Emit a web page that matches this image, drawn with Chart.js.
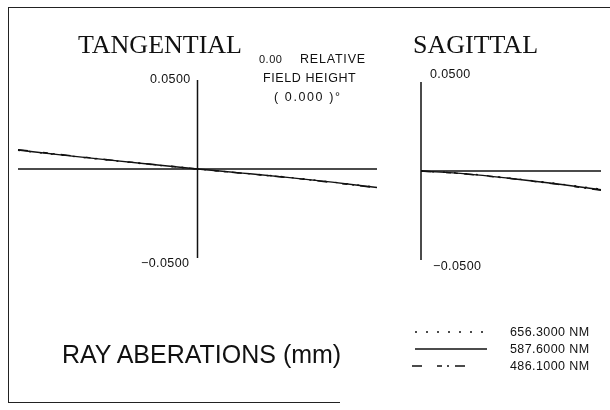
<!DOCTYPE html>
<html>
<head>
<meta charset="utf-8">
<script src="https://cdn.jsdelivr.net/npm/chart.js@4/dist/chart.umd.min.js"></script>
<style>
  html, body { margin: 0; padding: 0; background: #fff; }
  #wrap { position: relative; width: 610px; height: 410px; overflow: hidden; background: #fff; }
  #wrap canvas { position: absolute; left: 0; top: 0; }
  .t { position: absolute; color: #111; white-space: nowrap; line-height: 1; }
  .title { font-family: "Liberation Serif", serif; font-size: 26px; }
  .small { font-family: "Liberation Sans", Arial, sans-serif; font-size: 12.5px; letter-spacing: 0.4px; }
  .big { font-family: "Liberation Sans", Arial, sans-serif; font-size: 25px; }
  .frame { position: absolute; background: #222; }
</style>
</head>
<body>
<div id="wrap">
  <div class="frame" style="left:8px;top:7px;width:602px;height:1px"></div>
  <div class="frame" style="left:8px;top:7px;width:1px;height:396px"></div>
  <div class="frame" style="left:8px;top:402px;width:332px;height:1px"></div>
  <canvas id="tan" width="610" height="410"></canvas>
  <canvas id="sag" width="610" height="410"></canvas>
  <div id="labels"></div>
</div>
<script>
// --- data (mm), pupil coordinate -1..1 ---
const wavelengths = ['656.3000 NM', '587.6000 NM', '486.1000 NM'];
const dashes = [[2, 9], [], [10, 15, 5, 5, 2, 6]];

const tanPupil = [-1, -0.75, -0.5, -0.25, 0, 0.25, 0.5, 0.75, 1];
const tan656 = [0.0105, 0.0077, 0.0050, 0.0024, 0, -0.0023, -0.0046, -0.0073, -0.0102];
const tan588 = [0.0107, 0.0078, 0.0051, 0.0025, 0, -0.0023, -0.0047, -0.0074, -0.0104];
const tan486 = [0.0109, 0.0080, 0.0052, 0.0026, 0, -0.0024, -0.0048, -0.0076, -0.0106];

const sagPupil = [0, 0.25, 0.5, 0.75, 1];
const sag656 = [0, -0.0015, -0.0041, -0.0070, -0.0102];
const sag588 = [0, -0.0016, -0.0042, -0.0072, -0.0105];
const sag486 = [0, -0.0017, -0.0043, -0.0074, -0.0108];

const yTickLabels = ['0.0500', '\u22120.0500'];

function pts(xs, ys) { return xs.map((x, i) => ({ x: x, y: ys[i] })); }

// draws the two zero axes through the chart's own scales
const axesPlugin = {
  id: 'axes',
  beforeDatasetsDraw(chart) {
    const { ctx, chartArea: a, scales } = chart;
    const x0 = scales.x.getPixelForValue(0);
    const y0 = scales.y.getPixelForValue(0);
    ctx.save();
    ctx.strokeStyle = '#111';
    ctx.lineWidth = 1.5;
    ctx.beginPath();
    ctx.moveTo(x0, a.top); ctx.lineTo(x0, a.bottom);
    ctx.moveTo(a.left, y0); ctx.lineTo(a.right, y0);
    ctx.stroke();
    ctx.restore();
  }
};

// legend samples with the same dash patterns as the datasets
const legendPlugin = {
  id: 'fanLegend',
  afterDraw(chart) {
    const ctx = chart.ctx;
    const ys = [332, 349, 366];
    ctx.save();
    ctx.strokeStyle = '#111';
    ctx.lineWidth = 1.3;
    dashes.forEach((d, i) => {
      ctx.setLineDash(d);
      ctx.beginPath();
      ctx.moveTo(i === 2 ? 412 : 415, ys[i]);
      ctx.lineTo(i === 2 ? 480 : 487, ys[i]);
      ctx.stroke();
    });
    ctx.restore();
  }
};

function makeChart(id, xs, series, xmin, pad, extra) {
  return new Chart(document.getElementById(id), {
    type: 'line',
    data: {
      datasets: series.map((s, i) => ({
        data: pts(xs, s),
        borderColor: '#111',
        borderWidth: 1.4,
        borderDash: dashes[i],
        pointRadius: 0,
        cubicInterpolationMode: 'monotone',
        clip: false
      }))
    },
    options: {
      responsive: false,
      animation: false,
      devicePixelRatio: 1,
      layout: { padding: pad },
      plugins: { legend: { display: false }, tooltip: { enabled: false } },
      scales: {
        x: { type: 'linear', min: xmin, max: 1, display: false },
        y: { type: 'linear', min: -0.05, max: 0.05, display: false }
      }
    },
    plugins: extra
  });
}

makeChart('tan', tanPupil, [tan656, tan588, tan486], -1,
  { left: 18, right: 233, top: 80, bottom: 152 }, [axesPlugin]);
makeChart('sag', sagPupil, [sag656, sag588, sag486], 0,
  { left: 421, right: 9, top: 82, bottom: 150 }, [axesPlugin, legendPlugin]);

// --- text ---
const texts = [
  ['TANGENTIAL', 'title', 78, 32],
  ['SAGITTAL', 'title', 413, 32],
  ['0.00', 'small', 259, 54, 'font-size:11px;letter-spacing:0.5px'],
  ['RELATIVE', 'small', 300, 53, 'letter-spacing:0.8px'],
  ['FIELD HEIGHT', 'small', 263, 72, 'letter-spacing:0.6px'],
  ['( 0.000 )\u00b0', 'small', 274, 91, 'letter-spacing:1.6px'],
  [yTickLabels[0], 'small', 150, 73],
  [yTickLabels[1], 'small', 141, 257],
  [yTickLabels[0], 'small', 430, 68],
  [yTickLabels[1], 'small', 433, 260],
  ['RAY ABERATIONS (mm)', 'big', 62, 342],
  [wavelengths[0], 'small', 510, 326],
  [wavelengths[1], 'small', 510, 343],
  [wavelengths[2], 'small', 510, 360]
];
const box = document.getElementById('labels');
texts.forEach(([s, cls, x, y, st]) => {
  const d = document.createElement('div');
  d.className = 't ' + cls;
  d.textContent = s;
  d.style.cssText = 'left:' + x + 'px;top:' + y + 'px;' + (st || '');
  box.appendChild(d);
});
</script>
</body>
</html>
